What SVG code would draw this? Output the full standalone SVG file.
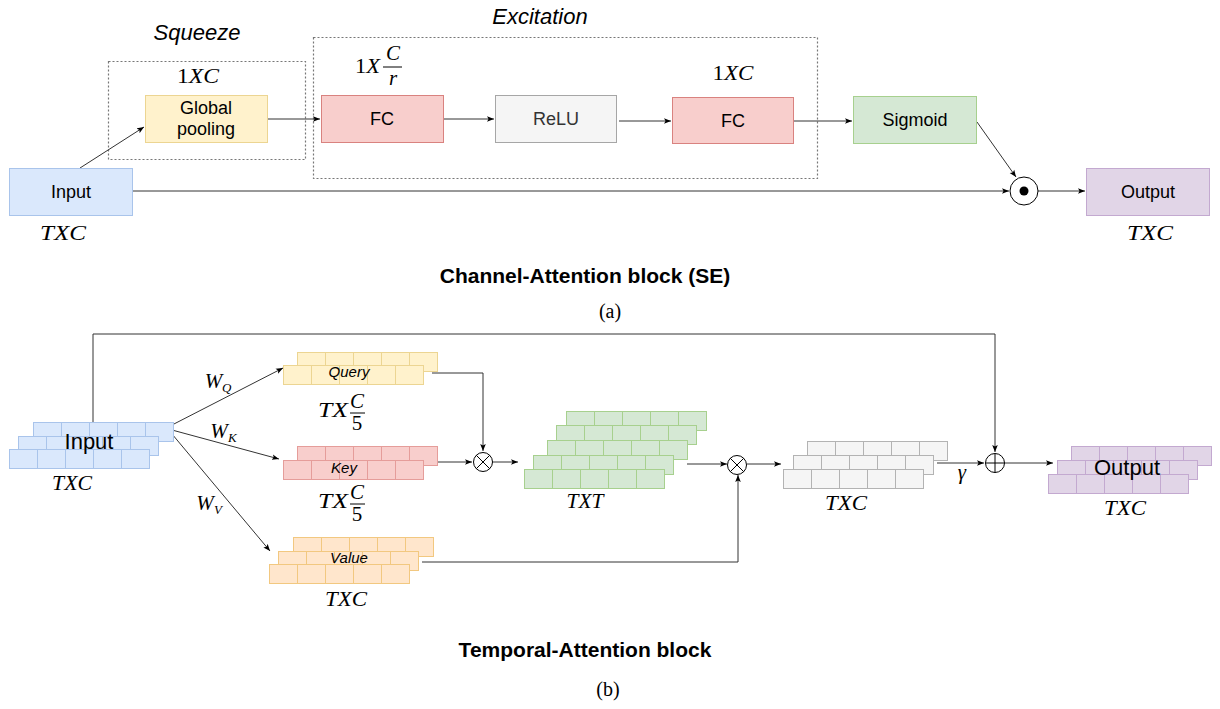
<svg xmlns="http://www.w3.org/2000/svg" xmlns:xlink="http://www.w3.org/1999/xlink" width="1220" height="709" viewBox="0 0 1220 709">
<style>
.lbl{font-family:"Liberation Sans",Arial,sans-serif;font-size:18px;fill:#000;text-anchor:middle}
.ital{font-family:"Liberation Sans",Arial,sans-serif;font-style:italic;text-anchor:middle}
.math{font-family:"Liberation Serif","Times New Roman",serif;font-style:italic;font-size:21px;fill:#000;text-anchor:middle}
.sub{font-family:"Liberation Serif","Times New Roman",serif;font-style:italic;font-size:13px;fill:#000;text-anchor:start}
.up{font-style:normal}
.title{font-family:"Liberation Sans",Arial,sans-serif;font-weight:bold;font-size:21px;fill:#000;text-anchor:middle}
.cap{font-family:"Liberation Serif","Times New Roman",serif;font-size:20px;fill:#000;text-anchor:middle}
.conn{fill:none;stroke:#333;stroke-width:1}
.dash{fill:none;stroke:#777;stroke-width:1.2;stroke-dasharray:2 2}
.op{fill:#fff;stroke:#000;stroke-width:1}
</style>
<defs>
<marker id="ah" viewBox="0 0 8 8" refX="8" refY="4" markerWidth="7" markerHeight="7" markerUnits="userSpaceOnUse" orient="auto">
<path d="M0,0.8 L8,4 L0,7.2 L1.8,4 z" fill="#000"/>
</marker>
<g id="row">
<rect x="0" y="0" width="28" height="19"/>
<rect x="28" y="0" width="28" height="19"/>
<rect x="56" y="0" width="28" height="19"/>
<rect x="84" y="0" width="28" height="19"/>
<rect x="112" y="0" width="28" height="19"/>
</g>
</defs>
<rect width="1220" height="709" fill="#fff"/>

<!-- ===== (a) Channel attention ===== -->
<g id="squeeze-group">
<rect class="dash" x="108.5" y="61.5" width="197" height="98"/>
<text class="ital" x="197" y="40" font-size="22">Squeeze</text>
</g>
<g id="excitation-group">
<rect class="dash" x="313.5" y="37.5" width="504" height="141"/>
<text class="ital" x="540" y="24" font-size="22">Excitation</text>
</g>

<g id="connectors-a">
<line class="conn" x1="80" y1="168" x2="144" y2="127" marker-end="url(#ah)"/>
<line class="conn" x1="268" y1="119" x2="320" y2="119" marker-end="url(#ah)"/>
<line class="conn" x1="443" y1="119" x2="494" y2="119" marker-end="url(#ah)"/>
<line class="conn" x1="619" y1="121" x2="671" y2="121" marker-end="url(#ah)"/>
<line class="conn" x1="793" y1="121" x2="852" y2="121" marker-end="url(#ah)"/>
<line class="conn" x1="977" y1="122" x2="1016" y2="177" marker-end="url(#ah)"/>
<line class="conn" x1="133" y1="191" x2="1009" y2="191" marker-end="url(#ah)"/>
<line class="conn" x1="1038" y1="191" x2="1085" y2="191" marker-end="url(#ah)"/>
</g>

<g id="a-input">
<rect x="9.5" y="168.5" width="123" height="47" fill="#dae8fc" stroke="#a9c4eb"/>
<text class="lbl" x="71" y="198">Input</text>
<text class="math" x="63" y="240" font-size="22" textLength="46" lengthAdjust="spacingAndGlyphs">TXC</text>
</g>
<g id="a-gpool">
<rect x="145.5" y="95.5" width="122" height="47" fill="#fff2cc" stroke="#ecd592"/>
<text class="lbl" x="206" y="114">Global</text>
<text class="lbl" x="206" y="135">pooling</text>
<text class="math" x="198" y="83" textLength="42" lengthAdjust="spacingAndGlyphs"><tspan class="up">1</tspan>XC</text>
</g>
<g id="a-fc1">
<rect x="321.5" y="95.5" width="122" height="47" fill="#f8cecc" stroke="#d9827f"/>
<text class="lbl" x="382" y="125">FC</text>
<text class="math" x="367.5" y="73" textLength="25" lengthAdjust="spacingAndGlyphs"><tspan class="up">1</tspan>X</text>
<text class="math" x="393" y="60" font-size="19">C</text>
<line x1="383" y1="67" x2="402" y2="67" stroke="#000" stroke-width="1"/>
<text class="math" x="393" y="85" font-size="19">r</text>
</g>
<g id="a-relu">
<rect x="495.5" y="95.5" width="121" height="47" fill="#f5f5f5" stroke="#a6a6a6"/>
<text class="lbl" x="556" y="125" style="fill:#333">ReLU</text>
</g>
<g id="a-fc2">
<rect x="672.5" y="97.5" width="121" height="46" fill="#f8cecc" stroke="#d9827f"/>
<text class="lbl" x="733" y="127">FC</text>
<text class="math" x="733" y="80" textLength="41" lengthAdjust="spacingAndGlyphs"><tspan class="up">1</tspan>XC</text>
</g>
<g id="a-sigmoid">
<rect x="853.5" y="96.5" width="123" height="47" fill="#d5e8d4" stroke="#a7d08e"/>
<text class="lbl" x="915" y="126">Sigmoid</text>
</g>
<g id="a-mul">
<circle class="op" cx="1024" cy="191" r="14"/>
<circle cx="1024" cy="191" r="4.5" fill="#000"/>
</g>
<g id="a-output">
<rect x="1086.5" y="168.5" width="123" height="47" fill="#e1d5e7" stroke="#c3a9d0"/>
<text class="lbl" x="1148" y="198">Output</text>
<text class="math" x="1150" y="240" font-size="22" textLength="46" lengthAdjust="spacingAndGlyphs">TXC</text>
</g>

<text class="title" x="585" y="283">Channel-Attention block (SE)</text>
<text class="cap" x="610" y="318">(a)</text>

<!-- ===== (b) Temporal attention ===== -->
<g id="connectors-b">
<polyline class="conn" points="93,422 93,334 995,334 995,452" marker-end="url(#ah)"/>
<line class="conn" x1="172" y1="425" x2="283" y2="368" marker-end="url(#ah)"/>
<line class="conn" x1="172" y1="430" x2="279" y2="459" marker-end="url(#ah)"/>
<line class="conn" x1="172" y1="434" x2="270" y2="551" marker-end="url(#ah)"/>
<polyline class="conn" points="432,373 483,373 483,451" marker-end="url(#ah)"/>
<line class="conn" x1="437" y1="462" x2="472" y2="462" marker-end="url(#ah)"/>
<line class="conn" x1="492" y1="462" x2="518" y2="462" marker-end="url(#ah)"/>
<line class="conn" x1="687" y1="464" x2="727" y2="464" marker-end="url(#ah)"/>
<polyline class="conn" points="422,562 738,562 738,475" marker-end="url(#ah)"/>
<line class="conn" x1="747" y1="464" x2="781" y2="464" marker-end="url(#ah)"/>
<line class="conn" x1="937" y1="463" x2="984" y2="463" marker-end="url(#ah)"/>
<line class="conn" x1="1005" y1="463" x2="1053" y2="463" marker-end="url(#ah)"/>
<text class="math" x="213.5" y="388" font-size="20">W</text><text class="sub" x="222" y="392">Q</text>
<text class="math" x="219" y="438" font-size="20">W</text><text class="sub" x="228" y="442">K</text>
<text class="math" x="205" y="510" font-size="20">W</text><text class="sub" x="214" y="514">V</text>
<text class="math" x="962" y="479" font-size="18">γ</text>
</g>

<g id="b-input" fill="#dae8fc" stroke="#a9c4eb">
<use xlink:href="#row" x="33.5" y="422.5"/>
<use xlink:href="#row" x="18.5" y="436.5"/>
<use xlink:href="#row" x="9.5" y="449.5"/>
<text class="lbl" x="89" y="449" stroke="none" style="font-size:22px">Input</text>
<text class="math" x="72" y="490" font-size="20" stroke="none" textLength="40" lengthAdjust="spacingAndGlyphs">TXC</text>
</g>

<g id="b-query" fill="#fff2cc" stroke="#ecd592">
<use xlink:href="#row" x="297.5" y="352.5"/>
<use xlink:href="#row" x="283.5" y="365.5"/>
<text class="ital" x="349" y="377" font-size="15" fill="#000" stroke="none">Query</text>
<g fill="#000" stroke="none">
<text class="math" x="333" y="417" font-size="20" textLength="30" lengthAdjust="spacingAndGlyphs">TX</text>
<text class="math" x="357" y="408" font-size="17">C</text>
<text class="math" x="357" y="430" font-size="17" style="font-style:normal">5</text>
</g>
<line x1="350" y1="413" x2="365" y2="413" stroke="#000"/>
</g>

<g id="b-key" fill="#f8cecc" stroke="#e59d9a">
<use xlink:href="#row" x="297.5" y="446.5"/>
<use xlink:href="#row" x="283.5" y="460.5"/>
<text class="ital" x="344" y="473" font-size="15" fill="#000" stroke="none">Key</text>
<g fill="#000" stroke="none">
<text class="math" x="333" y="508" font-size="20" textLength="30" lengthAdjust="spacingAndGlyphs">TX</text>
<text class="math" x="357" y="499" font-size="17">C</text>
<text class="math" x="357" y="521" font-size="17" style="font-style:normal">5</text>
</g>
<line x1="350" y1="504" x2="365" y2="504" stroke="#000"/>
</g>

<g id="b-value" fill="#ffe6cc" stroke="#f2c880">
<use xlink:href="#row" x="293.5" y="537.5"/>
<use xlink:href="#row" x="278.5" y="551.5"/>
<use xlink:href="#row" x="269.5" y="564.5"/>
<text class="ital" x="349" y="563" font-size="15" fill="#000" stroke="none">Value</text>
<text class="math" x="346" y="606" font-size="20" fill="#000" stroke="none" textLength="42" lengthAdjust="spacingAndGlyphs">TXC</text>
</g>

<g id="b-mul1">
<circle class="op" cx="483" cy="462" r="9.5"/>
<path d="M476.3,455.3 L489.7,468.7 M489.7,455.3 L476.3,468.7" stroke="#000" stroke-width="1"/>
</g>

<g id="b-attn" fill="#d5e8d4" stroke="#a7d08e">
<use xlink:href="#row" x="566.5" y="411.5"/>
<use xlink:href="#row" x="556.5" y="425.5"/>
<use xlink:href="#row" x="547.5" y="440.5"/>
<use xlink:href="#row" x="533.5" y="455.5"/>
<use xlink:href="#row" x="524.5" y="469.5"/>
<text class="math" x="585" y="508" font-size="20" fill="#000" stroke="none" textLength="37" lengthAdjust="spacingAndGlyphs">TXT</text>
</g>

<g id="b-mul2">
<circle class="op" cx="737" cy="465" r="9.5"/>
<path d="M730.3,458.3 L743.7,471.7 M743.7,458.3 L730.3,471.7" stroke="#000" stroke-width="1"/>
</g>

<g id="b-weighted" fill="#f5f5f5" stroke="#b3b3b3">
<use xlink:href="#row" x="807.5" y="441.5"/>
<use xlink:href="#row" x="793.5" y="455.5"/>
<use xlink:href="#row" x="783.5" y="469.5"/>
<text class="math" x="846" y="510" font-size="20" fill="#000" stroke="none" textLength="42" lengthAdjust="spacingAndGlyphs">TXC</text>
</g>

<g id="b-add">
<circle class="op" cx="995" cy="463" r="9.5"/>
<path d="M985.5,463 L1004.5,463 M995,453.5 L995,472.5" stroke="#000" stroke-width="1"/>
</g>

<g id="b-output" fill="#e1d5e7" stroke="#c3a9d0">
<use xlink:href="#row" x="1071.5" y="446.5"/>
<use xlink:href="#row" x="1057.5" y="460.5"/>
<use xlink:href="#row" x="1048.5" y="474.5"/>
<text class="lbl" x="1127" y="475" stroke="none" style="font-size:22px">Output</text>
<text class="math" x="1125" y="515" font-size="20" fill="#000" stroke="none" textLength="42" lengthAdjust="spacingAndGlyphs">TXC</text>
</g>

<text class="title" x="585" y="657">Temporal-Attention block</text>
<text class="cap" x="608" y="696">(b)</text>
</svg>
